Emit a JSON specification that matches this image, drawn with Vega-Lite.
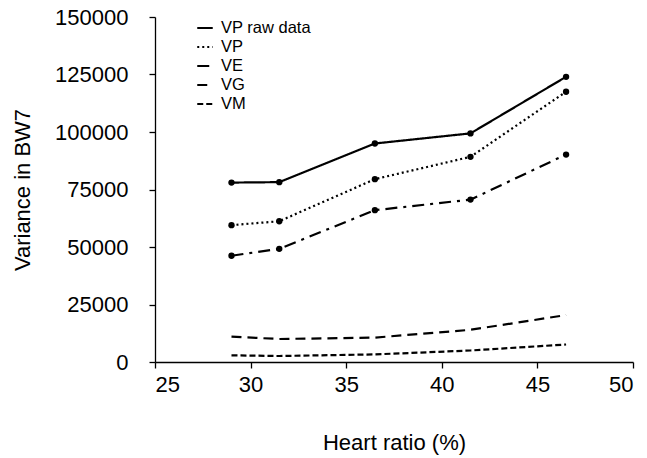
{
  "$schema": "https://vega.github.io/schema/vega-lite/v6.json",
  "width": 478,
  "height": 345,
  "autosize": {"type": "none"},
  "padding": {"left": 155, "top": 17, "right": 14, "bottom": 96},
  "background": "white",
  "config": {
    "font": "Liberation Sans",
    "view": {"stroke": null},
    "axis": {"domainColor": "black", "tickColor": "black", "labelColor": "black", "titleColor": "black", "grid": false, "labelFont": "Liberation Sans", "titleFont": "Liberation Sans", "titleFontWeight": "normal", "domainWidth": 1.3, "tickWidth": 1.3}
  },
  "data": {"values": [
    {"series": "VP raw data", "ratio": 29, "variance": 78000},
    {"series": "VP raw data", "ratio": 31.5, "variance": 78200},
    {"series": "VP raw data", "ratio": 36.5, "variance": 95000},
    {"series": "VP raw data", "ratio": 41.5, "variance": 99400},
    {"series": "VP raw data", "ratio": 46.5, "variance": 124000},
    {"series": "VP", "ratio": 29, "variance": 59500},
    {"series": "VP", "ratio": 31.5, "variance": 61200},
    {"series": "VP", "ratio": 36.5, "variance": 79500},
    {"series": "VP", "ratio": 41.5, "variance": 89200},
    {"series": "VP", "ratio": 46.5, "variance": 117500},
    {"series": "VE", "ratio": 29, "variance": 46200},
    {"series": "VE", "ratio": 31.5, "variance": 49200},
    {"series": "VE", "ratio": 36.5, "variance": 66000},
    {"series": "VE", "ratio": 41.5, "variance": 70600},
    {"series": "VE", "ratio": 46.5, "variance": 90200},
    {"series": "VG", "ratio": 29, "variance": 11000},
    {"series": "VG", "ratio": 31.5, "variance": 10000},
    {"series": "VG", "ratio": 36.5, "variance": 10600},
    {"series": "VG", "ratio": 41.5, "variance": 14000},
    {"series": "VG", "ratio": 46.5, "variance": 20400},
    {"series": "VM", "ratio": 29, "variance": 2900},
    {"series": "VM", "ratio": 31.5, "variance": 2600},
    {"series": "VM", "ratio": 36.5, "variance": 3300},
    {"series": "VM", "ratio": 41.5, "variance": 5000},
    {"series": "VM", "ratio": 46.5, "variance": 7600}
  ]},
  "encoding": {
    "x": {"field": "ratio", "type": "quantitative", "title": "Heart ratio (%)",
      "scale": {"domain": [25, 50], "nice": false, "zero": false},
      "axis": {"values": [25, 30, 35, 40, 45, 50], "labelFontSize": 22, "titleFontSize": 22, "tickSize": 6, "labelPadding": 6, "titleX": 239, "titleY": 87, "titleBaseline": "alphabetic"}},
    "y": {"field": "variance", "type": "quantitative", "title": "Variance in BW7",
      "scale": {"domain": [0, 150000], "nice": false},
      "axis": {"values": [0, 25000, 50000, 75000, 100000, 125000, 150000], "format": "d", "labelFontSize": 22, "titleFontSize": 22, "tickSize": 6, "labelPadding": 21, "titleX": -133, "titleY": 172.5, "titleAngle": -90, "titleBaseline": "middle", "titleAlign": "center"}}
  },
  "layer": [
    {"mark": {"type": "line", "color": "black", "stroke": "black", "strokeWidth": 2.2},
     "encoding": {
       "strokeDash": {"field": "series", "type": "nominal",
         "scale": {"domain": ["VP raw data", "VP", "VE", "VG", "VM"], "range": [[1, 0], [2, 3], [12, 6, 3, 6], [10, 6], [6, 3]]},
         "legend": {"title": null, "orient": "none", "legendX": 41, "legendY": 2, "labelFontSize": 16.5, "labelColor": "black", "symbolType": "stroke", "symbolStrokeColor": "black", "symbolOpacity": 1, "symbolStrokeWidth": 2, "symbolSize": 240, "rowPadding": 1, "labelOffset": 7}}
     }},
    {"mark": {"type": "point", "filled": true, "color": "black", "size": 40, "opacity": 1},
     "transform": [{"filter": "indexof(['VP raw data','VP','VE'], datum.series) >= 0"}]}
  ]
}
